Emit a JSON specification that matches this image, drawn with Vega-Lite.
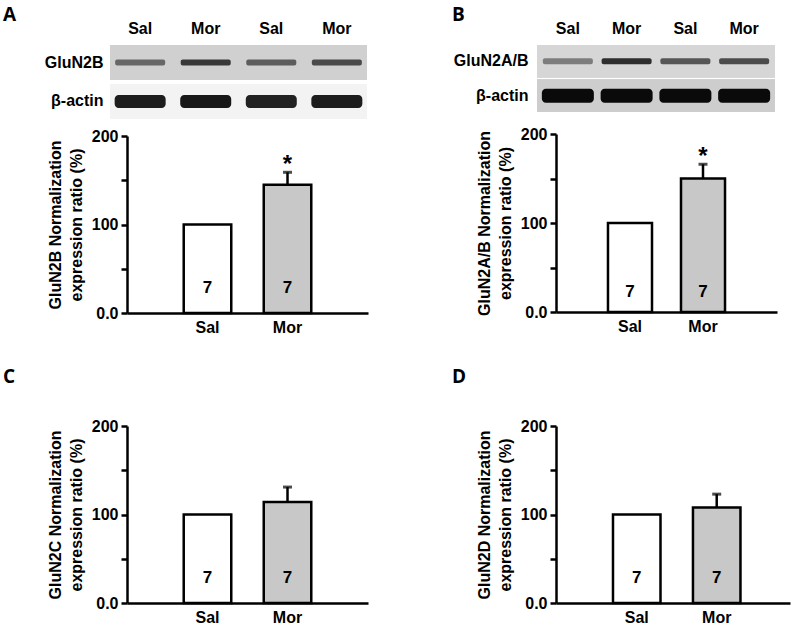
{
  "$schema": "https://vega.github.io/schema/vega-lite/v6.json",
  "padding": {"left": 3, "top": 6, "right": 5, "bottom": 5},
  "config": {
    "font": "Liberation Sans",
    "view": {"stroke": null},
    "axis": {"labelColor": "black", "titleColor": "black", "domainColor": "black", "tickColor": "black", "grid": false},
    "title": {"color": "black"},
    "text": {"color": "black"}
  },
  "datasets": {
    "bars": [
      {"panel": "A", "group": "Sal", "mean": 100, "upper": null, "n": 7, "sig": ""},
      {"panel": "A", "group": "Mor", "mean": 145, "upper": 159, "n": 7, "sig": "*"},
      {"panel": "B", "group": "Sal", "mean": 100, "upper": null, "n": 7, "sig": ""},
      {"panel": "B", "group": "Mor", "mean": 150, "upper": 166, "n": 7, "sig": "*"},
      {"panel": "C", "group": "Sal", "mean": 100, "upper": null, "n": 7, "sig": ""},
      {"panel": "C", "group": "Mor", "mean": 114, "upper": 131, "n": 7, "sig": ""},
      {"panel": "D", "group": "Sal", "mean": 100, "upper": null, "n": 7, "sig": ""},
      {"panel": "D", "group": "Mor", "mean": 108, "upper": 123, "n": 7, "sig": ""}
    ],
    "blots": [
      {"panel": "A", "row": "GluN2B", "lane": "Sal 1", "intensity": 0.55},
      {"panel": "A", "row": "GluN2B", "lane": "Mor 1", "intensity": 0.8},
      {"panel": "A", "row": "GluN2B", "lane": "Sal 2", "intensity": 0.6},
      {"panel": "A", "row": "GluN2B", "lane": "Mor 2", "intensity": 0.7},
      {"panel": "A", "row": "β-actin", "lane": "Sal 1", "intensity": 0.95},
      {"panel": "A", "row": "β-actin", "lane": "Mor 1", "intensity": 0.97},
      {"panel": "A", "row": "β-actin", "lane": "Sal 2", "intensity": 0.93},
      {"panel": "A", "row": "β-actin", "lane": "Mor 2", "intensity": 0.95},
      {"panel": "B", "row": "GluN2A/B", "lane": "Sal 1", "intensity": 0.45},
      {"panel": "B", "row": "GluN2A/B", "lane": "Mor 1", "intensity": 0.85},
      {"panel": "B", "row": "GluN2A/B", "lane": "Sal 2", "intensity": 0.65},
      {"panel": "B", "row": "GluN2A/B", "lane": "Mor 2", "intensity": 0.7},
      {"panel": "B", "row": "β-actin", "lane": "Sal 1", "intensity": 1},
      {"panel": "B", "row": "β-actin", "lane": "Mor 1", "intensity": 1},
      {"panel": "B", "row": "β-actin", "lane": "Sal 2", "intensity": 1},
      {"panel": "B", "row": "β-actin", "lane": "Mor 2", "intensity": 1}
    ]
  },
  "spacing": 33,
  "vconcat": [
    {
      "spacing": 84,
      "hconcat": [
        {
          "spacing": 9,
          "vconcat": [
            {
              "title": {"text": "A", "anchor": "start", "frame": "group", "dx": -107, "font": "Open Sans", "fontSize": 19, "fontWeight": "bold", "offset": -5},
              "width": 257, "height": 74,
              "data": {"name": "blots"},
              "transform": [{"filter": "datum.panel == 'A'"}],
              "encoding": {
                "y": {"field": "row", "type": "nominal", "sort": ["GluN2B", "β-actin"], "scale": {"paddingInner": 0.1, "paddingOuter": 0},
                  "axis": {"title": null, "domain": false, "ticks": false, "tickSize": 0, "labelFontSize": 16, "labelFontWeight": "bold", "labelPadding": 7}}
              },
              "layer": [
                {"transform": [{"filter": "datum.row == 'GluN2B'"}], "mark": {"type": "rect", "fill": "#d0d0d0"}, "encoding": {}},
                {"transform": [{"filter": "datum.row == 'β-actin'"}], "mark": {"type": "rect", "fill": "#f3f3f3"}, "encoding": {}},
                {"transform": [{"filter": "datum.row == 'GluN2B'"}],
                  "mark": {"type": "tick", "orient": "horizontal", "thickness": 6, "size": 50, "color": "#111111", "cornerRadius": 2},
                  "encoding": {
                    "x": {"field": "lane", "type": "nominal", "sort": ["Sal 1", "Mor 1", "Sal 2", "Mor 2"], "scale": {"paddingInner": 0.24, "paddingOuter": 0.08},
                      "axis": {"orient": "top", "title": null, "domain": false, "ticks": false, "tickSize": 0, "labelAngle": 0, "labelFontSize": 16, "labelFontWeight": "bold", "labelPadding": 9, "labelExpr": "slice(datum.label, 0, 3)"}},
                    "opacity": {"field": "intensity", "type": "quantitative", "scale": {"domain": [0, 1], "range": [0, 1]}, "legend": null}
                  }},
                {"transform": [{"filter": "datum.row == 'β-actin'"}],
                  "mark": {"type": "tick", "orient": "horizontal", "thickness": 13, "size": 51, "color": "#111111", "cornerRadius": 4},
                  "encoding": {
                    "x": {"field": "lane", "type": "nominal", "sort": ["Sal 1", "Mor 1", "Sal 2", "Mor 2"]},
                    "opacity": {"field": "intensity", "type": "quantitative", "scale": {"domain": [0, 1], "range": [0, 1]}, "legend": null}
                  }}
              ]
            },
            {
              "width": 258, "height": 177,
              "data": {"name": "bars"},
              "transform": [{"filter": "datum.panel == 'A'"}],
              "encoding": {
                "x": {"field": "group", "type": "nominal", "sort": ["Sal", "Mor"],
                  "scale": {"range": [17, 258], "paddingInner": 0.406, "paddingOuter": 0.709},
                  "axis": {"title": null, "labelAngle": 0, "ticks": false, "domainWidth": 2.5, "labelFontSize": 16, "labelFontWeight": "bold", "labelPadding": 6}}
              },
              "layer": [
                {"mark": {"type": "bar", "stroke": "black", "strokeWidth": 2.5},
                  "encoding": {
                    "y": {"field": "mean", "type": "quantitative", "scale": {"domain": [0, 200], "nice": false},
                      "axis": {"title": ["GluN2B Normalization", "expression ratio (%)"], "offset": -17, "values": [0, 50, 100, 150, 200],
                        "labelExpr": "datum.value == 0 ? '0.0' : (datum.value % 100 == 0 ? datum.label : '')",
                        "domainWidth": 2.5, "tickWidth": 2.5, "tickSize": 6, "labelFontSize": 16, "labelFontWeight": "bold", "labelPadding": 3,
                        "titleFontSize": 16, "titleFontWeight": "bold", "titleLineHeight": 21, "titlePadding": 7}},
                    "fill": {"field": "group", "type": "nominal", "scale": {"domain": ["Sal", "Mor"], "range": ["#ffffff", "#c8c8c8"]}, "legend": null}
                  }},
                {"transform": [{"filter": "isValid(datum.upper)"}], "mark": {"type": "rule", "strokeWidth": 2.5, "color": "black"},
                  "encoding": {"y": {"field": "mean", "type": "quantitative"}, "y2": {"field": "upper"}}},
                {"transform": [{"filter": "isValid(datum.upper)"}], "mark": {"type": "tick", "orient": "horizontal", "thickness": 3, "size": 9, "color": "black"},
                  "encoding": {"y": {"field": "upper", "type": "quantitative"}}},
                {"mark": {"type": "text", "fontSize": 17, "fontWeight": "bold", "baseline": "middle"},
                  "encoding": {"y": {"datum": 28}, "text": {"field": "n", "type": "nominal"}}},
                {"transform": [{"filter": "datum.sig != ''"}], "mark": {"type": "text", "fontSize": 24, "fontWeight": "bold", "baseline": "alphabetic", "dy": 0},
                  "encoding": {"y": {"field": "upper", "type": "quantitative"}, "text": {"field": "sig", "type": "nominal"}}}
              ]
            }
          ]
        },
        {
          "spacing": 14,
          "vconcat": [
            {
              "title": {"text": "B", "anchor": "start", "frame": "group", "dx": -85, "font": "Open Sans", "fontSize": 19, "fontWeight": "bold", "offset": -5},
              "width": 238, "height": 67,
              "data": {"name": "blots"},
              "transform": [{"filter": "datum.panel == 'B'"}],
              "encoding": {
                "y": {"field": "row", "type": "nominal", "sort": ["GluN2A/B", "β-actin"], "scale": {"paddingInner": 0.06, "paddingOuter": 0},
                  "axis": {"title": null, "domain": false, "ticks": false, "tickSize": 0, "labelFontSize": 16, "labelFontWeight": "bold", "labelPadding": 9}}
              },
              "layer": [
                {"transform": [{"filter": "datum.row == 'GluN2A/B'"}], "mark": {"type": "rect", "fill": "#d6d6d6"}, "encoding": {}},
                {"transform": [{"filter": "datum.row == 'β-actin'"}], "mark": {"type": "rect", "fill": "#cdcdcd"}, "encoding": {}},
                {"transform": [{"filter": "datum.row == 'GluN2A/B'"}],
                  "mark": {"type": "tick", "orient": "horizontal", "thickness": 6, "size": 50, "color": "#111111", "cornerRadius": 2},
                  "encoding": {
                    "x": {"field": "lane", "type": "nominal", "sort": ["Sal 1", "Mor 1", "Sal 2", "Mor 2"], "scale": {"paddingInner": 0.12, "paddingOuter": 0.085},
                      "axis": {"orient": "top", "title": null, "domain": false, "ticks": false, "tickSize": 0, "labelAngle": 0, "labelFontSize": 16, "labelFontWeight": "bold", "labelPadding": 9, "labelExpr": "slice(datum.label, 0, 3)"}},
                    "opacity": {"field": "intensity", "type": "quantitative", "scale": {"domain": [0, 1], "range": [0, 1]}, "legend": null}
                  }},
                {"transform": [{"filter": "datum.row == 'β-actin'"}],
                  "mark": {"type": "tick", "orient": "horizontal", "thickness": 14, "size": 52, "color": "#0a0a0a", "cornerRadius": 4},
                  "encoding": {
                    "x": {"field": "lane", "type": "nominal", "sort": ["Sal 1", "Mor 1", "Sal 2", "Mor 2"]},
                    "opacity": {"field": "intensity", "type": "quantitative", "scale": {"domain": [0, 1], "range": [0, 1]}, "legend": null}
                  }}
              ]
            },
            {
              "width": 240, "height": 178,
              "data": {"name": "bars"},
              "transform": [{"filter": "datum.panel == 'B'"}],
              "encoding": {
                "x": {"field": "group", "type": "nominal", "sort": ["Sal", "Mor"],
                  "scale": {"range": [19, 240], "paddingInner": 0.397, "paddingOuter": 0.712},
                  "axis": {"title": null, "labelAngle": 0, "ticks": false, "domainWidth": 2.5, "labelFontSize": 16, "labelFontWeight": "bold", "labelPadding": 6}}
              },
              "layer": [
                {"mark": {"type": "bar", "stroke": "black", "strokeWidth": 2.5},
                  "encoding": {
                    "y": {"field": "mean", "type": "quantitative", "scale": {"domain": [0, 200], "nice": false},
                      "axis": {"title": ["GluN2A/B Normalization", "expression ratio (%)"], "offset": -19, "values": [0, 50, 100, 150, 200],
                        "labelExpr": "datum.value == 0 ? '0.0' : (datum.value % 100 == 0 ? datum.label : '')",
                        "domainWidth": 2.5, "tickWidth": 2.5, "tickSize": 6, "labelFontSize": 16, "labelFontWeight": "bold", "labelPadding": 3,
                        "titleFontSize": 16, "titleFontWeight": "bold", "titleLineHeight": 21, "titlePadding": 7}},
                    "fill": {"field": "group", "type": "nominal", "scale": {"domain": ["Sal", "Mor"], "range": ["#ffffff", "#c8c8c8"]}, "legend": null}
                  }},
                {"transform": [{"filter": "isValid(datum.upper)"}], "mark": {"type": "rule", "strokeWidth": 2.5, "color": "black"},
                  "encoding": {"y": {"field": "mean", "type": "quantitative"}, "y2": {"field": "upper"}}},
                {"transform": [{"filter": "isValid(datum.upper)"}], "mark": {"type": "tick", "orient": "horizontal", "thickness": 3, "size": 9, "color": "black"},
                  "encoding": {"y": {"field": "upper", "type": "quantitative"}}},
                {"mark": {"type": "text", "fontSize": 17, "fontWeight": "bold", "baseline": "middle"},
                  "encoding": {"y": {"datum": 22}, "text": {"field": "n", "type": "nominal"}}},
                {"transform": [{"filter": "datum.sig != ''"}], "mark": {"type": "text", "fontSize": 24, "fontWeight": "bold", "baseline": "alphabetic", "dy": 0},
                  "encoding": {"y": {"field": "upper", "type": "quantitative"}, "text": {"field": "sig", "type": "nominal"}}}
              ]
            }
          ]
        }
      ]
    },
    {
      "spacing": 84,
      "hconcat": [
        {
          "title": {"text": "C", "anchor": "start", "frame": "group", "dx": -107, "font": "Open Sans", "fontSize": 19, "fontWeight": "bold", "offset": 31},
          "width": 258, "height": 177,
          "data": {"name": "bars"},
          "transform": [{"filter": "datum.panel == 'C'"}],
          "encoding": {
            "x": {"field": "group", "type": "nominal", "sort": ["Sal", "Mor"],
              "scale": {"range": [17, 258], "paddingInner": 0.406, "paddingOuter": 0.709},
              "axis": {"title": null, "labelAngle": 0, "ticks": false, "domainWidth": 2.5, "labelFontSize": 16, "labelFontWeight": "bold", "labelPadding": 6}}
          },
          "layer": [
            {"mark": {"type": "bar", "stroke": "black", "strokeWidth": 2.5},
              "encoding": {
                "y": {"field": "mean", "type": "quantitative", "scale": {"domain": [0, 200], "nice": false},
                  "axis": {"title": ["GluN2C Normalization", "expression ratio (%)"], "offset": -17, "values": [0, 50, 100, 150, 200],
                    "labelExpr": "datum.value == 0 ? '0.0' : (datum.value % 100 == 0 ? datum.label : '')",
                    "domainWidth": 2.5, "tickWidth": 2.5, "tickSize": 6, "labelFontSize": 16, "labelFontWeight": "bold", "labelPadding": 3,
                    "titleFontSize": 16, "titleFontWeight": "bold", "titleLineHeight": 21, "titlePadding": 7}},
                "fill": {"field": "group", "type": "nominal", "scale": {"domain": ["Sal", "Mor"], "range": ["#ffffff", "#c8c8c8"]}, "legend": null}
              }},
            {"transform": [{"filter": "isValid(datum.upper)"}], "mark": {"type": "rule", "strokeWidth": 2.5, "color": "black"},
              "encoding": {"y": {"field": "mean", "type": "quantitative"}, "y2": {"field": "upper"}}},
            {"transform": [{"filter": "isValid(datum.upper)"}], "mark": {"type": "tick", "orient": "horizontal", "thickness": 3, "size": 9, "color": "black"},
              "encoding": {"y": {"field": "upper", "type": "quantitative"}}},
            {"mark": {"type": "text", "fontSize": 17, "fontWeight": "bold", "baseline": "middle"},
              "encoding": {"y": {"datum": 28}, "text": {"field": "n", "type": "nominal"}}}
          ]
        },
        {
          "title": {"text": "D", "anchor": "start", "frame": "group", "dx": -85, "font": "Open Sans", "fontSize": 19, "fontWeight": "bold", "offset": 31},
          "width": 253, "height": 177,
          "data": {"name": "bars"},
          "transform": [{"filter": "datum.panel == 'D'"}],
          "encoding": {
            "x": {"field": "group", "type": "nominal", "sort": ["Sal", "Mor"],
              "scale": {"range": [19, 253], "paddingInner": 0.406, "paddingOuter": 0.666, "align": 0.535},
              "axis": {"title": null, "labelAngle": 0, "ticks": false, "domainWidth": 2.5, "labelFontSize": 16, "labelFontWeight": "bold", "labelPadding": 6}}
          },
          "layer": [
            {"mark": {"type": "bar", "stroke": "black", "strokeWidth": 2.5},
              "encoding": {
                "y": {"field": "mean", "type": "quantitative", "scale": {"domain": [0, 200], "nice": false},
                  "axis": {"title": ["GluN2D Normalization", "expression ratio (%)"], "offset": -19, "values": [0, 50, 100, 150, 200],
                    "labelExpr": "datum.value == 0 ? '0.0' : (datum.value % 100 == 0 ? datum.label : '')",
                    "domainWidth": 2.5, "tickWidth": 2.5, "tickSize": 6, "labelFontSize": 16, "labelFontWeight": "bold", "labelPadding": 3,
                    "titleFontSize": 16, "titleFontWeight": "bold", "titleLineHeight": 21, "titlePadding": 7}},
                "fill": {"field": "group", "type": "nominal", "scale": {"domain": ["Sal", "Mor"], "range": ["#ffffff", "#c8c8c8"]}, "legend": null}
              }},
            {"transform": [{"filter": "isValid(datum.upper)"}], "mark": {"type": "rule", "strokeWidth": 2.5, "color": "black"},
              "encoding": {"y": {"field": "mean", "type": "quantitative"}, "y2": {"field": "upper"}}},
            {"transform": [{"filter": "isValid(datum.upper)"}], "mark": {"type": "tick", "orient": "horizontal", "thickness": 3, "size": 9, "color": "black"},
              "encoding": {"y": {"field": "upper", "type": "quantitative"}}},
            {"mark": {"type": "text", "fontSize": 17, "fontWeight": "bold", "baseline": "middle"},
              "encoding": {"y": {"datum": 28}, "text": {"field": "n", "type": "nominal"}}}
          ]
        }
      ]
    }
  ]
}
